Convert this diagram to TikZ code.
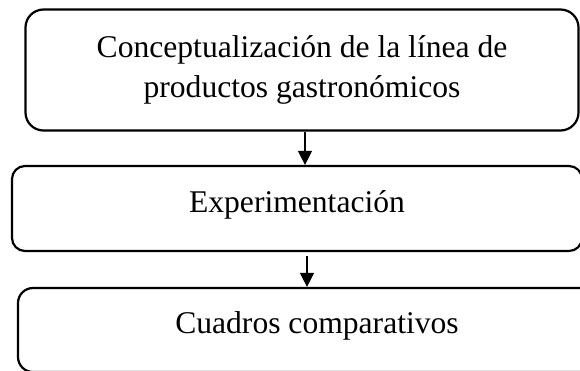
\documentclass[tikz,border=0pt]{standalone}
\usepackage{fontspec}
\setmainfont{Liberation Serif}
\usetikzlibrary{arrows.meta}
\begin{document}
\begin{tikzpicture}[x=1pt,y=-1pt,
  caja/.style={draw, line width=2.2pt, rounded corners=#1, align=center,
    inner sep=0pt, font=\fontsize{31.6}{39.5}\selectfont},
  flecha/.style={-{Triangle[width=14pt,length=14pt]}, line width=1.2pt}]
  \useasboundingbox (0,0) rectangle (580,370);
  \clip (0,0) rectangle (580,370);
  \node[caja=18pt, minimum width=553pt, minimum height=121pt] (concepto) at (302,70)
    {Conceptualización de la línea de\\productos gastronómicos};
  \node[caja=13pt, minimum width=570pt, minimum height=85pt, text depth=14pt] (experimentacion) at (297,208.5)
    {Experimentación};
  \node[caja=15pt, minimum width=598pt, minimum height=84pt, text depth=14pt] (cuadros) at (317,330)
    {Cuadros comparativos}; % cortado abajo
  \foreach \a/\b/\dx/\dy in {concepto/experimentacion/3/0, experimentacion/cuadros/10/-4} {
      \draw[flecha] ([xshift=\dx pt,yshift=\dy pt]\a.south) -- ([xshift=\dx pt]\a.south |- \b.north); % flecha hacia abajo
  }
\end{tikzpicture}
\end{document}
